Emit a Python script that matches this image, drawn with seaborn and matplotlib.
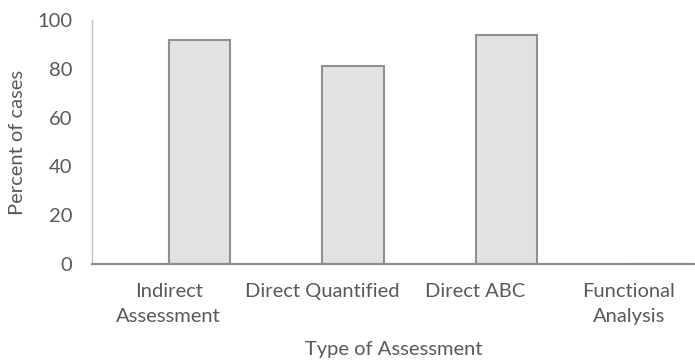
import numpy as np
import pandas as pd
import matplotlib
matplotlib.use("Agg")
import matplotlib.pyplot as plt
import seaborn as sns

# Share of cases in which each type of assessment was used
categories = ["Indirect\nAssessment", "Direct Quantified", "Direct ABC", "Functional\nAnalysis"]
percent_of_cases = [92, 81, 94, 0]
y_ticks = [0, 20, 40, 60, 80, 100]

TEXT = "#595959"
BAR_FILL = "#E1E2E4"
BAR_EDGE = "#8F8F8F"

sns.set_theme(style="white")
plt.rcParams["font.family"] = ["Lato", "DejaVu Sans"]

# Bars sit in the right half of each category slot (an empty first series
# occupies the left half), so they are offset from the category centre.
slot = np.arange(len(categories))
df = pd.DataFrame({"pos": slot + 0.2, "pct": percent_of_cases})

fig = plt.figure(figsize=(6.95, 3.63), dpi=100)
ax = fig.add_axes([92 / 695, 1 - 264 / 363, 603 / 695, 244 / 363])

sns.barplot(data=df, x="pos", y="pct", native_scale=True, width=0.4,
            color=BAR_FILL, edgecolor=BAR_EDGE, linewidth=1.5,
            saturation=1, errorbar=None, ax=ax)

ax.set_xlim(-0.5, 3.43)
ax.set_ylim(0, 100)
ax.set_yticks(y_ticks)
ax.set_xticks(slot)
ax.set_xticklabels(categories)

for lbl in ax.get_xticklabels():
    lbl.set_linespacing(1.52)

ax.tick_params(axis="both", length=0, labelsize=14.5, colors=TEXT)
ax.tick_params(axis="y", pad=14)
ax.tick_params(axis="x", pad=14)

ax.set_xlabel("Type of Assessment", fontsize=14.5, color=TEXT, labelpad=12)
ax.set_ylabel("Percent of cases", fontsize=14.5, color=TEXT, labelpad=8)

for side in ("top", "right"):
    ax.spines[side].set_visible(False)
ax.spines["left"].set_color("#BFBFBF")
ax.spines["left"].set_linewidth(1.0)
ax.spines["bottom"].set_color("#8E8E8E")
ax.spines["bottom"].set_linewidth(1.6)
ax.spines["bottom"].set_zorder(5)

fig.savefig("out.png", dpi=100)
